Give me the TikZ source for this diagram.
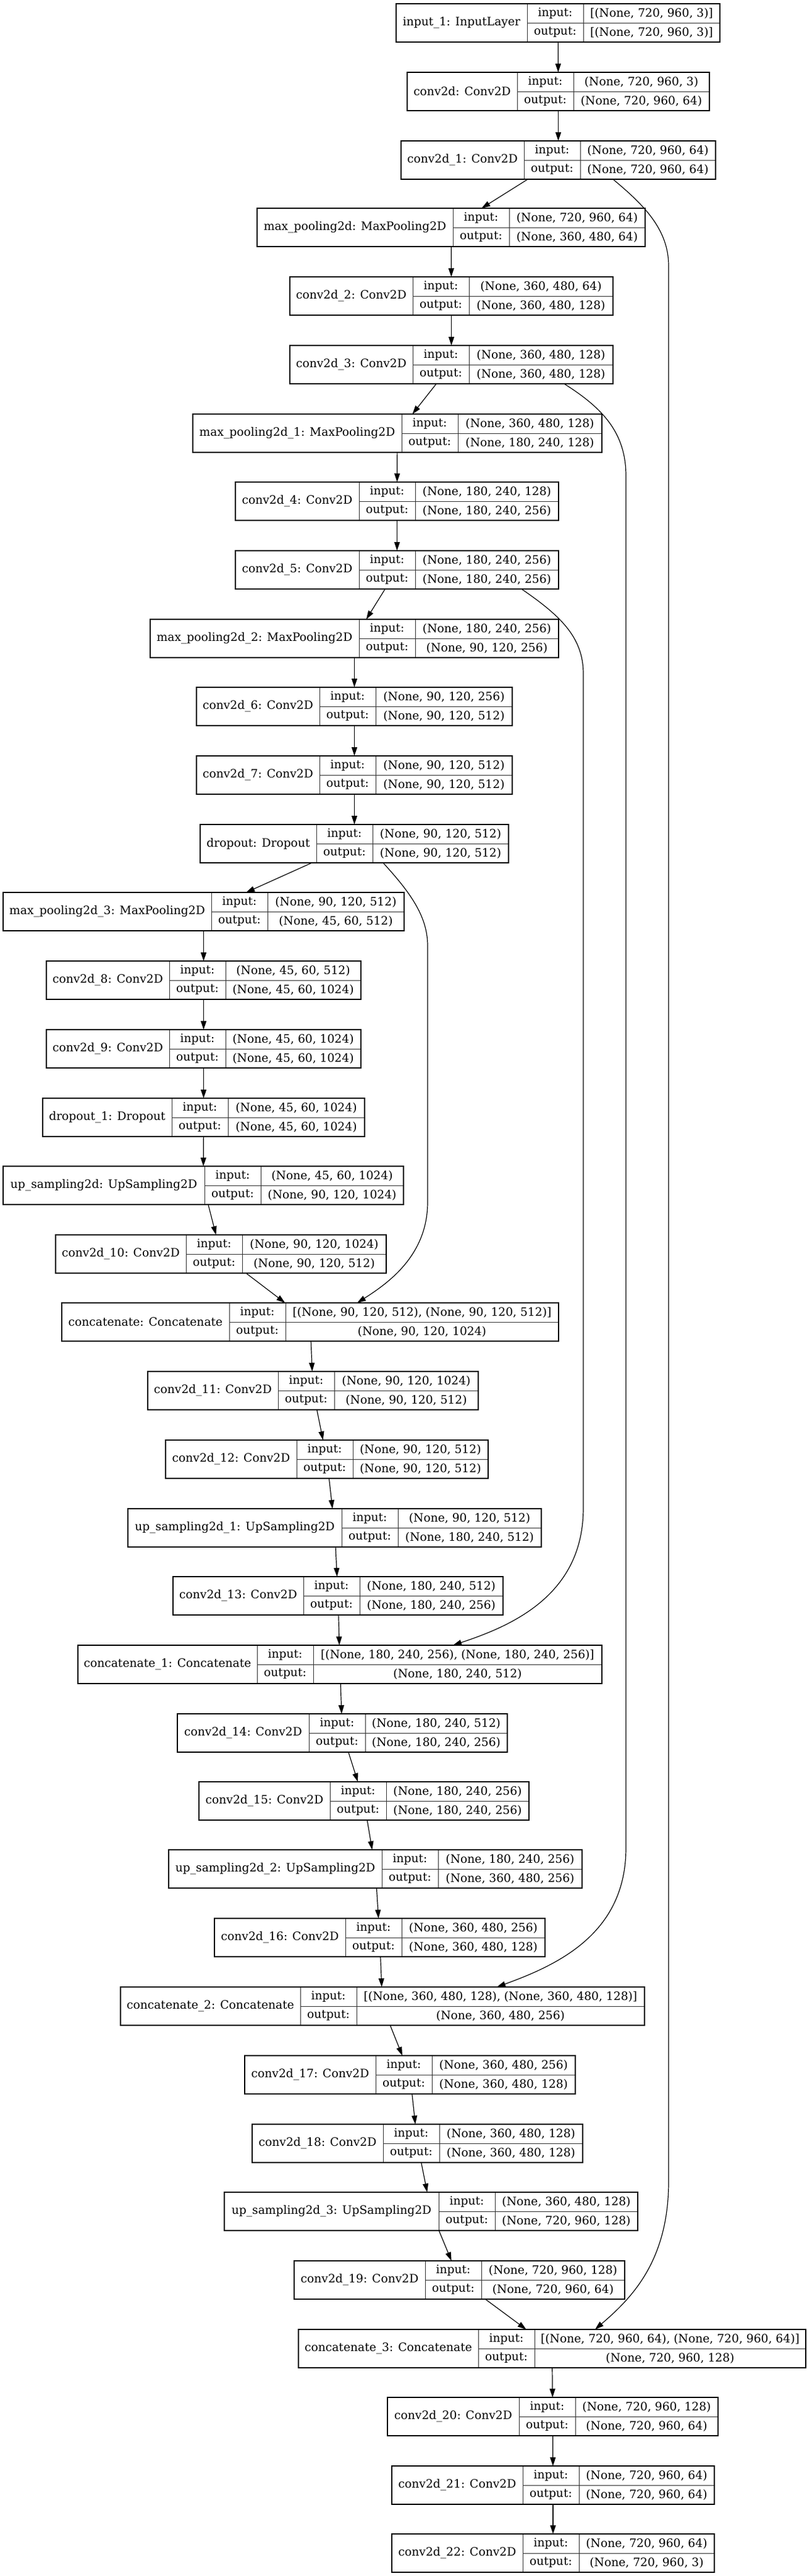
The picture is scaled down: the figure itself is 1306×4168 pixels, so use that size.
\documentclass[tikz,border=0pt]{standalone}
\usepackage{fontspec}
\setmainfont{DejaVu Serif}
\usetikzlibrary{arrows.meta, calc}

% one layer: #1 name, #2 left, #3 top, #4 split, #5 right, #6 title, #7 input, #8 output
\newcommand{\nnlayer}[8]{%
  \node[cellbox, minimum width={#4-#2}, minimum height=62] (#1-n) at (#2,-#3) {#6};
  \node[cellbox, minimum width=91] (#1-il) at (#4,-#3) {input:};
  \node[cellbox, minimum width=91] (#1-ol) at (#4,-#3-31) {output:};
  \node[cellbox, minimum width={#5-#4-91}] (#1-iv) at (#4+91,-#3) {#7};
  \node[cellbox, minimum width={#5-#4-91}] (#1-ov) at (#4+91,-#3-31) {#8};
  \node[layer, minimum width={#5-#2}] (#1) at (#2,-#3) {};
}

\begin{document}
\begin{tikzpicture}[
    x=1pt, y=1pt,
    cellbox/.style={draw=black!80, line width=1pt, anchor=north west, inner sep=0pt, outer sep=0pt, minimum height=31, font=\fontsize{18.7}{22}\selectfont},
    layer/.style={draw, line width=1.8pt, anchor=north west, inner sep=0pt, outer sep=0pt, minimum height=62},
    arrow/.style={-{Triangle[length=14pt, width=9pt]}, line width=1.2pt}
]
\useasboundingbox (0,0) rectangle (1306,-4168);

% Encoder
\nnlayer{inp}{641}{6}{853}{1165}{input\_1: InputLayer}{[(None, 720, 960, 3)]}{[(None, 720, 960, 3)]}
\nnlayer{cv}{659}{117}{837}{1148}{conv2d: Conv2D}{(None, 720, 960, 3)}{(None, 720, 960, 64)}
\nnlayer{cv1}{649}{228}{848}{1158}{conv2d\_1: Conv2D}{(None, 720, 960, 64)}{(None, 720, 960, 64)}
\nnlayer{mp}{416}{337}{733}{1044}{max\_pooling2d: MaxPooling2D}{(None, 720, 960, 64)}{(None, 360, 480, 64)}
\nnlayer{cv2}{469}{448}{668}{992}{conv2d\_2: Conv2D}{(None, 360, 480, 64)}{(None, 360, 480, 128)}
\nnlayer{cv3}{469}{559}{668}{992}{conv2d\_3: Conv2D}{(None, 360, 480, 128)}{(None, 360, 480, 128)}
\nnlayer{mp1}{312}{670}{650}{974}{max\_pooling2d\_1: MaxPooling2D}{(None, 360, 480, 128)}{(None, 180, 240, 128)}
\nnlayer{cv4}{381}{780}{581}{904}{conv2d\_4: Conv2D}{(None, 180, 240, 128)}{(None, 180, 240, 256)}
\nnlayer{cv5}{381}{891}{581}{904}{conv2d\_5: Conv2D}{(None, 180, 240, 256)}{(None, 180, 240, 256)}
\nnlayer{mp2}{243}{1002}{581}{904}{max\_pooling2d\_2: MaxPooling2D}{(None, 180, 240, 256)}{(None, 90, 120, 256)}
\nnlayer{cv6}{318}{1112}{517}{829}{conv2d\_6: Conv2D}{(None, 90, 120, 256)}{(None, 90, 120, 512)}
\nnlayer{cv7}{318}{1223}{517}{829}{conv2d\_7: Conv2D}{(None, 90, 120, 512)}{(None, 90, 120, 512)}
\nnlayer{drop}{324}{1334}{512}{823}{dropout: Dropout}{(None, 90, 120, 512)}{(None, 90, 120, 512)}
\nnlayer{mp3}{5}{1444}{342}{654}{max\_pooling2d\_3: MaxPooling2D}{(None, 90, 120, 512)}{(None, 45, 60, 512)}

% Bottleneck
\nnlayer{cv8}{75}{1555}{274}{584}{conv2d\_8: Conv2D}{(None, 45, 60, 512)}{(None, 45, 60, 1024)}
\nnlayer{cv9}{75}{1666}{274}{584}{conv2d\_9: Conv2D}{(None, 45, 60, 1024)}{(None, 45, 60, 1024)}
\nnlayer{drop1}{69}{1777}{278}{590}{dropout\_1: Dropout}{(None, 45, 60, 1024)}{(None, 45, 60, 1024)}

% Decoder
\nnlayer{up}{5}{1887}{331}{653}{up\_sampling2d: UpSampling2D}{(None, 45, 60, 1024)}{(None, 90, 120, 1024)}
\nnlayer{cv10}{90}{1998}{301}{625}{conv2d\_10: Conv2D}{(None, 90, 120, 1024)}{(None, 90, 120, 512)}
\nnlayer{cat}{100}{2108}{371}{904}{concatenate: Concatenate}{[(None, 90, 120, 512), (None, 90, 120, 512)]}{(None, 90, 120, 1024)}
\nnlayer{cv11}{239}{2219}{450}{774}{conv2d\_11: Conv2D}{(None, 90, 120, 1024)}{(None, 90, 120, 512)}
\nnlayer{cv12}{268}{2330}{480}{790}{conv2d\_12: Conv2D}{(None, 90, 120, 512)}{(None, 90, 120, 512)}
\nnlayer{up1}{207}{2441}{553}{876}{up\_sampling2d\_1: UpSampling2D}{(None, 90, 120, 512)}{(None, 180, 240, 512)}
\nnlayer{cv13}{280}{2551}{491}{814}{conv2d\_13: Conv2D}{(None, 180, 240, 512)}{(None, 180, 240, 256)}
\nnlayer{cat1}{126}{2662}{416}{974}{concatenate\_1: Concatenate}{[(None, 180, 240, 256), (None, 180, 240, 256)]}{(None, 180, 240, 512)}
\nnlayer{cv14}{287}{2773}{500}{821}{conv2d\_14: Conv2D}{(None, 180, 240, 512)}{(None, 180, 240, 256)}
\nnlayer{cv15}{322}{2883}{534}{856}{conv2d\_15: Conv2D}{(None, 180, 240, 256)}{(None, 180, 240, 256)}
\nnlayer{up2}{273}{2993}{618}{942}{up\_sampling2d\_2: UpSampling2D}{(None, 180, 240, 256)}{(None, 360, 480, 256)}
\nnlayer{cv16}{347}{3104}{559}{882}{conv2d\_16: Conv2D}{(None, 360, 480, 256)}{(None, 360, 480, 128)}
\nnlayer{cat2}{195}{3215}{486}{1043}{concatenate\_2: Concatenate}{[(None, 360, 480, 128), (None, 360, 480, 128)]}{(None, 360, 480, 256)}
\nnlayer{cv17}{396}{3326}{608}{931}{conv2d\_17: Conv2D}{(None, 360, 480, 256)}{(None, 360, 480, 128)}
\nnlayer{cv18}{408}{3437}{620}{943}{conv2d\_18: Conv2D}{(None, 360, 480, 128)}{(None, 360, 480, 128)}
\nnlayer{up3}{363}{3547}{710}{1032}{up\_sampling2d\_3: UpSampling2D}{(None, 360, 480, 128)}{(None, 720, 960, 128)}
\nnlayer{cv19}{476}{3658}{688}{1011}{conv2d\_19: Conv2D}{(None, 720, 960, 128)}{(None, 720, 960, 64)}
\nnlayer{cat3}{483}{3769}{774}{1304}{concatenate\_3: Concatenate}{[(None, 720, 960, 64), (None, 720, 960, 64)]}{(None, 720, 960, 128)}
\nnlayer{cv20}{627}{3879}{840}{1162}{conv2d\_20: Conv2D}{(None, 720, 960, 128)}{(None, 720, 960, 64)}
\nnlayer{cv21}{634}{3990}{846}{1156}{conv2d\_21: Conv2D}{(None, 720, 960, 64)}{(None, 720, 960, 64)}
\nnlayer{cv22}{634}{4100}{846}{1156}{conv2d\_22: Conv2D}{(None, 720, 960, 64)}{(None, 720, 960, 3)}

% Arrows
\draw[arrow] (inp) -- (cv);
\draw[arrow] (cv) -- (cv1);
\draw[arrow] (cv1) -- (mp);
\draw[arrow] (mp) -- (cv2);
\draw[arrow] (cv2) -- (cv3);
\draw[arrow] (cv3) -- (mp1);
\draw[arrow] (mp1) -- (cv4);
\draw[arrow] (cv4) -- (cv5);
\draw[arrow] (cv5) -- (mp2);
\draw[arrow] (mp2) -- (cv6);
\draw[arrow] (cv6) -- (cv7);
\draw[arrow] (cv7) -- (drop);
\draw[arrow] (drop) -- (mp3);
\draw[arrow] (mp3) -- (cv8);
\draw[arrow] (cv8) -- (cv9);
\draw[arrow] (cv9) -- (drop1);
\draw[arrow] (drop1) -- (up);
\draw[arrow] (up) -- (cv10);
\draw[arrow] (cv10) -- (cat);
\draw[arrow] (cat) -- (cv11);
\draw[arrow] (cv11) -- (cv12);
\draw[arrow] (cv12) -- (up1);
\draw[arrow] (up1) -- (cv13);
\draw[arrow] (cv13) -- (cat1);
\draw[arrow] (cat1) -- (cv14);
\draw[arrow] (cv14) -- (cv15);
\draw[arrow] (cv15) -- (up2);
\draw[arrow] (up2) -- (cv16);
\draw[arrow] (cv16) -- (cat2);
\draw[arrow] (cat2) -- (cv17);
\draw[arrow] (cv17) -- (cv18);
\draw[arrow] (cv18) -- (up3);
\draw[arrow] (up3) -- (cv19);
\draw[arrow] (cv19) -- (cat3);
\draw[arrow] (cat3) -- (cv20);
\draw[arrow] (cv20) -- (cv21);
\draw[arrow] (cv21) -- (cv22);

% Skip connections
\draw[arrow] ([xshift=88.5pt]cv1.south) .. controls (1040,-330) and (1082,-370) .. (1082,-430)
  -- (1082,-3530) .. controls (1082,-3660) and (1020,-3720) .. ([xshift=69.5pt]cat3.north);
\draw[arrow] ([xshift=182.5pt]cv3.south) .. controls (975,-660) and (1013,-700) .. (1013,-770)
  -- (1013,-2990) .. controls (1013,-3130) and (900,-3180) .. ([xshift=185pt]cat2.north);
\draw[arrow] ([xshift=201.5pt]cv5.south) .. controls (905,-995) and (944,-1030) .. (944,-1090)
  -- (944,-2440) .. controls (944,-2580) and (830,-2630) .. ([xshift=183pt]cat1.north);
\draw[arrow] ([xshift=46.5pt]drop.south) .. controls (660,-1440) and (692,-1480) .. (692,-1530)
  -- (692,-1945) .. controls (692,-2030) and (630,-2075) .. ([xshift=76pt]cat.north);

\end{tikzpicture}
\end{document}
